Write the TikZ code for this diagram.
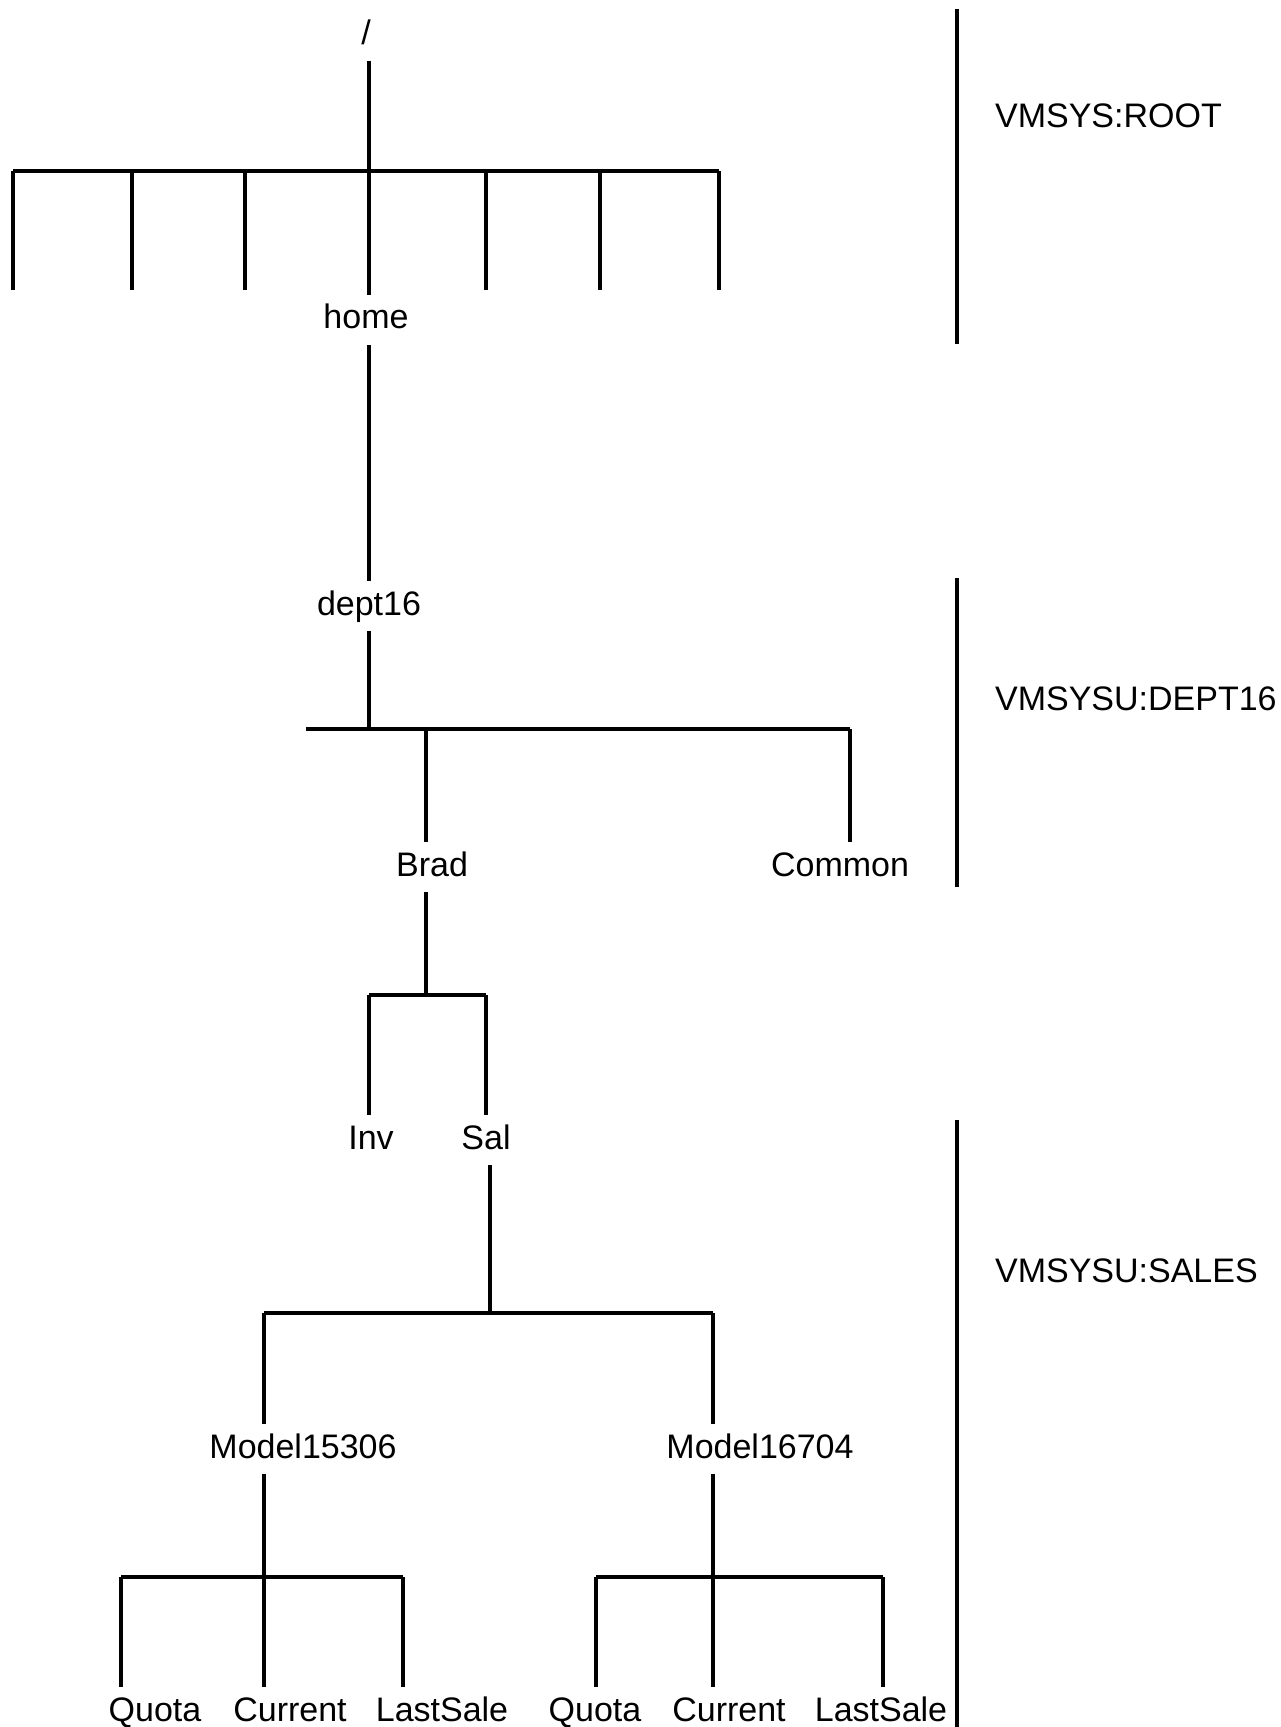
\documentclass[tikz,border=0pt]{standalone}
\usepackage{fontspec}
\setmainfont{Liberation Sans}
\usetikzlibrary{positioning}
\tikzset{>=latex}
\tikzset{
	dir/.style = {font=\fontsize{17}{20}\selectfont, inner sep=5pt, text height=12pt, text depth=3pt},
	vol/.style = {font=\fontsize{17}{20}\selectfont, anchor=west},
	branch/.style = {line width=1.6pt},
	bar/.style = {line width=2pt},
	sep/.style = {line width=1.6pt}
}

\begin{document}
\begin{tikzpicture}[x = 0.5pt, y = -0.5pt]
\useasboundingbox (0,0) rectangle (1280,1727);

% directory names
\node[dir] (root) at (366,36) {/};
\node[dir] (home) at (366,320) {home};
\node[dir] (dept) at (369,606) {dept16};
\node[dir] (brad) at (432,867) {Brad};
\node[dir] (common) at (840,867) {Common};
\node[dir] (inv) at (371,1140) {Inv};
\node[dir] (sal) at (486,1140) {Sal};
\node[dir] (mA) at (303,1449) {Model15306};
\node[dir] (mB) at (760,1449) {Model16704};

% bars
\coordinate (rootbar) at (369,171);
\coordinate (deptbar) at (369,729);
\coordinate (bradbar) at (426,995);
\coordinate (salbar) at (490,1313);
\coordinate (mAbar) at (264,1577);
\coordinate (mBbar) at (713,1577);

\draw[branch] (root.south -| rootbar) -- (rootbar);
\draw[bar] (13,171) -- (719,171);
\foreach \x in {13, 132, 245, 486, 600, 719}
	\draw[branch] (\x,171) -- (\x,290);
\draw[branch] (rootbar) -- (home.north -| rootbar);

\draw[branch] (home.south -| rootbar) -- (dept.north -| rootbar);
\draw[branch] (dept.south -| deptbar) -- (deptbar);
\draw[bar] (306,729) -- (850,729);
\draw[branch] (426,729) -- (426,729 |- brad.north);
\draw[branch] (850,729) -- (850,729 |- common.north);

\draw[branch] (brad.south -| bradbar) -- (bradbar);
\draw[bar] (369,995) -- (486,995);
\draw[branch] (369,995) -- (369,995 |- inv.north);
\draw[branch] (486,995) -- (486,995 |- sal.north);

\draw[branch] (sal.south -| salbar) -- (salbar);
\draw[bar] (264,1313) -- (713,1313);
\draw[branch] (264,1313) -- (264,1313 |- mA.north);
\draw[branch] (713,1313) -- (713,1313 |- mB.north);

\draw[branch] (mA.south -| mAbar) -- (mAbar);
\draw[branch] (mB.south -| mBbar) -- (mBbar);
\draw[bar] (121,1577) -- (403,1577);
\draw[bar] (596,1577) -- (883,1577);

% files
\foreach \x/\lx/\n/\t in {121/155/qA/Quota, 264/290/cA/Current, 403/442/lA/LastSale,
	596/595/qB/Quota, 713/729/cB/Current, 883/881/lB/LastSale} {
	\node[dir] (\n) at (\lx,1712) {\t};
	\draw[branch] (\x,1577) -- (\x,1577 |- \n.north);
}

% volumes
\draw[sep] (957,9) -- (957,344);
\draw[sep] (957,578) -- (957,887);
\draw[sep] (957,1120) -- (957,1727);
\node[vol] (vroot) at (988,116) {VMSYS:ROOT};
\node[vol] (vdept) at (988,699) {VMSYSU:DEPT16};
\node[vol] (vsales) at (988,1271) {VMSYSU:SALES};

\end{tikzpicture}
\end{document}
